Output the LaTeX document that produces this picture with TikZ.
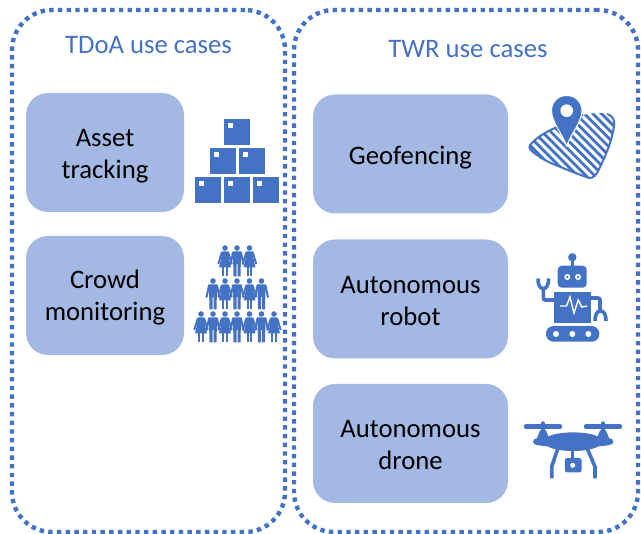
\documentclass[tikz,border=0pt]{standalone}
\usepackage{fontspec}
\setmainfont{Carlito}
\usetikzlibrary{positioning}

\definecolor{iconcol}{HTML}{4472C4}
\definecolor{casecol}{HTML}{A3B9E3}

\tikzset{
    groupbox/.style={draw=iconcol, line width=4.4pt, dash pattern=on 4.4pt off 4.3pt, rounded corners=40pt, minimum height=522pt},
    casebox/.style={fill=casecol, rounded corners=22pt, minimum height=119pt},
    casetext/.style={align=center, text=black, font=\fontsize{26.7}{32}\selectfont},
    grouptitle/.style={anchor=base, text=iconcol, font=\fontsize{26.7}{32}\selectfont},
    crate/.pic={
        \fill[iconcol] (0,0) rectangle (26,26);
        \fill[white] (4,4) rectangle (9,9);
    },
    woman/.pic={
        \fill[iconcol] (0,0) circle (2.8);
        \fill[iconcol] (-3.2,3.4) -- (3.2,3.4) -- (3.8,10) -- (6,19.5) -- (-6,19.5) -- (-3.8,10) -- cycle;
        \draw[iconcol, line width=2pt, line cap=round] (-3.2,4.6) -- (-6.6,15.5);
        \draw[iconcol, line width=2pt, line cap=round] (3.2,4.6) -- (6.6,15.5);
        \fill[iconcol] (-2.9,19) rectangle (-0.6,28.5);
        \fill[iconcol] (0.6,19) rectangle (2.9,28.5);
    },
    man/.pic={
        \fill[iconcol] (0,0) circle (2.8);
        \fill[iconcol] (-4.4,3.4) -- (4.4,3.4) -- (3.8,15) -- (3.5,28.5) -- (0.5,28.5) -- (0.5,16) -- (-0.5,16) -- (-0.5,28.5) -- (-3.5,28.5) -- (-3.8,15) -- cycle;
        \draw[iconcol, line width=2pt, line cap=round] (-4,4.6) -- (-6.4,16);
        \draw[iconcol, line width=2pt, line cap=round] (4,4.6) -- (6.4,16);
    },
}

\begin{document}
\begin{tikzpicture}[x=1pt, y=-1pt]
    \useasboundingbox (0,0) rectangle (641,534);

    % Dotted groups
    \node[groupbox, minimum width=273pt] (tdoa) at (148.5,271) {};
    \node[groupbox, minimum width=344pt] (twr) at (466,271) {};

    % Group titles
    \node[grouptitle] (tdoatitle) at (148.5,54) {TDoA use cases};
    \node[grouptitle] (twrtitle) at (468,58) {TWR use cases};

    % Use cases
    \node[casebox, minimum width=158pt] (asset) at (105,152.5) {};
    \node[casebox, minimum width=158pt] (crowd) at (105,295.5) {};
    \node[casebox, minimum width=195pt] (geo) at (410.5,154) {};
    \node[casebox, minimum width=195pt] (robot) at (410.5,299) {};
    \node[casebox, minimum width=195pt] (drone) at (410.5,443.5) {};

    \node[casetext, yshift=-4pt] (assettext) at (asset) {Asset\\tracking};
    \node[casetext, yshift=-2pt] (crowdtext) at (crowd) {Crowd\\monitoring};
    \node[casetext, yshift=-4pt] (geotext) at (geo) {Geofencing};
    \node[casetext, yshift=-2pt] (robottext) at (robot) {Autonomous\\robot};
    \node[casetext, yshift=-2pt] (dronetext) at (drone) {Autonomous\\drone};

    % Crates
    \foreach \x/\y in {224/119, 209.5/148, 238.5/148, 195/177, 224/177, 252.5/177}
        \pic at (\x,\y) {crate};

    % People
    \foreach \x/\kind in {225/woman, 237/man, 249.5/woman}
        \pic at (\x,248) {\kind};
    \foreach \x/\kind in {213/man, 225/woman, 237/man, 249.5/woman, 261.5/man}
        \pic at (\x,281) {\kind};
    \foreach \x/\kind in {201/woman, 213/man, 225/woman, 237/man, 249.5/woman, 261.5/man, 274/woman}
        \pic at (\x,314) {\kind};

    % Geofence
    \begin{scope}
        \clip (530,145) .. controls (538,136) and (548,131) .. (557,127) .. controls (566,122) and (575,117) .. (583,115) .. controls (592,113) and (601,112) .. (607,114) .. controls (613,116) and (615,120) .. (614,126) .. controls (612,142) and (603,162) .. (597,173) .. controls (594,178) and (590,179) .. (586,177) .. controls (578,174) and (570,171) .. (563,168) .. controls (553,164) and (545,161) .. (537,155) .. controls (531,151) and (528,148) .. (530,145) -- cycle;
        \foreach \s in {380,388.6,...,620}
            \draw[iconcol, line width=2.8pt] (\s,90) -- (\s+100,190);
    \end{scope}
    \draw[iconcol, line width=2pt] (583,115) .. controls (575,117) and (566,122) .. (557,127) .. controls (548,131) and (538,136) .. (530,145) .. controls (528,148) and (531,151) .. (537,155) .. controls (545,161) and (553,164) .. (563,168) .. controls (570,171) and (578,174) .. (586,177) .. controls (590,179) and (594,178) .. (597,173) .. controls (603,162) and (612,142) .. (614,126) .. controls (615,120) and (613,116) .. (607,114);

    % Pin
    \fill[iconcol, draw=white, line width=1pt] (566.7,146) .. controls (563,135) and (551.5,122) .. (551.5,110.5) .. controls (551.5,102) and (558,95.5) .. (566.7,95.5) .. controls (575,95.5) and (582,102) .. (582,110.5) .. controls (582,122) and (570,135) .. (566.7,146) -- cycle;
    \fill[white] (566.7,110.7) circle (6.3);

    % Robot
    \fill[iconcol] (572.3,257.3) circle (4.2);
    \draw[iconcol, line width=2.6pt] (572.3,258) -- (572.3,267);
    \fill[iconcol, rounded corners=4pt] (557.7,265.7) rectangle (586.7,287.7);
    \fill[white] (567.3,277) circle (3) (578,277) circle (3);
    \fill[iconcol] (567.3,277) circle (1.3) (578,277) circle (1.3);
    \fill[iconcol] (554.3,291.7) rectangle (590.7,322.7);
    \draw[white, line width=1.4pt] (560,306) -- (566.5,306) -- (570,297) -- (574,313) -- (578.3,300) -- (581.7,307) -- (587,306);
    \draw[iconcol, line width=3.6pt, rounded corners=2pt] (554.3,300) -- (543.3,300) -- (543.3,288);
    \draw[iconcol, line width=3.6pt] (538,278.5) .. controls (537.5,292) and (549,292) .. (548.6,278.5);
    \draw[iconcol, line width=3.6pt, rounded corners=2pt] (590.7,298) -- (600,298) -- (600,312);
    \draw[iconcol, line width=3.6pt] (595,321) .. controls (594.5,307.5) and (606.5,307.5) .. (606,321);
    \fill[iconcol, rounded corners=7.5pt] (546,326) rectangle (599.3,341.7);
    \fill[white] (556,334) circle (3) (572.3,334) circle (3) (588.3,334) circle (3);

    % Drone
    \draw[iconcol, line width=4.4pt, line cap=round] (526,426.7) -- (560,426.7);
    \draw[iconcol, line width=4.4pt, line cap=round] (586,426.7) -- (620,426.7);
    \draw[iconcol, line width=3.4pt, line cap=round] (543,423) -- (543,436);
    \draw[iconcol, line width=3.4pt, line cap=round] (603,423) -- (603,436);
    \fill[iconcol] (540,430.5) -- (546,430.5) -- (549,438) -- (537,438) -- cycle;
    \fill[iconcol] (600,430.5) -- (606,430.5) -- (609,438) -- (597,438) -- cycle;
    \fill[iconcol] (533,441.7) .. controls (533,437.5) and (541,437.5) .. (548,436.5) .. controls (560,431) and (586,431) .. (598,436.5) .. controls (605,437.5) and (613.5,437.5) .. (613.5,441.7) .. controls (613.5,446) and (604,445.5) .. (598,446.5) .. controls (588,452.5) and (558,452.5) .. (548,446.5) .. controls (542,445.5) and (533,446) .. (533,441.7) -- cycle;
    \draw[iconcol, line width=3.6pt] (558,448) -- (551.7,466.7) -- (551.7,478.5);
    \draw[iconcol, line width=3.6pt] (587,448) -- (595,466.7) -- (595,478.5);
    \draw[iconcol, line width=3.4pt] (572.7,449) -- (572.7,459);
    \fill[iconcol, rounded corners=2.5pt] (564.8,458) rectangle (581.7,472.5);
    \fill[white] (572.7,465.3) circle (2.5);
\end{tikzpicture}
\end{document}
